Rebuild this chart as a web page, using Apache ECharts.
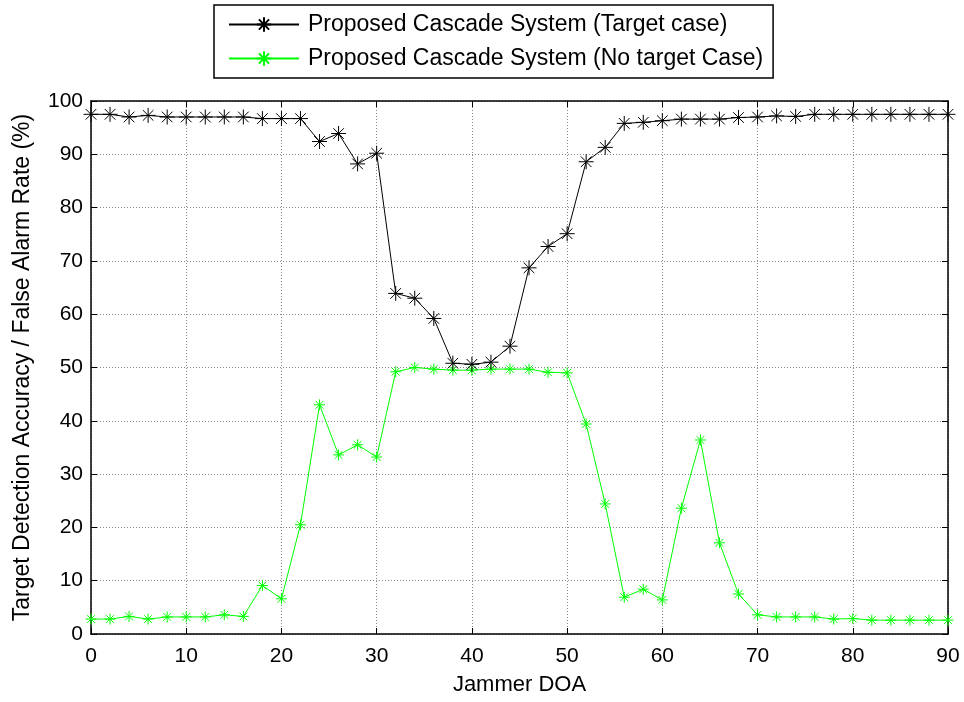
<!DOCTYPE html>
<html>
<head>
<meta charset="utf-8">
<script src="https://cdn.jsdelivr.net/npm/echarts@6/dist/echarts.min.js"></script>
<style>
  html, body { margin: 0; padding: 0; background: #fff; }
  #chart { width: 964px; height: 702px; }
</style>
</head>
<body>
<div id="chart"></div>
<script>
// jammer direction of arrival (deg)
var doa = [0, 2, 4, 6, 8, 10, 12, 14, 16, 18, 20, 22, 24, 26, 28, 30, 32, 34, 36, 38, 40, 42, 44,
           46, 48, 50, 52, 54, 56, 58, 60, 62, 64, 66, 68, 70, 72, 74, 76, 78, 80, 82, 84, 86, 88, 90];

// detection accuracy, target present
var targetCase = [97.5, 97.5, 97, 97.3, 97, 97, 97, 97, 97, 96.7, 96.7, 96.7,
                  92.4, 93.9, 88.2, 90.2, 63.9, 63, 59.2, 50.8, 50.6, 51, 54,
                  68.7, 72.7, 75.1, 88.6, 91.3, 95.8, 96, 96.3, 96.6, 96.6, 96.6, 96.9, 97, 97.2,
                  97.1, 97.5, 97.5, 97.5, 97.5, 97.5, 97.5, 97.5, 97.5];

// false alarm rate, no target
var noTargetCase = [2.8, 2.8, 3.3, 2.8, 3.2, 3.2, 3.2, 3.6, 3.3, 9.1, 6.6, 20.5,
                    43, 33.6, 35.5, 33.2, 49.2, 50, 49.7, 49.5, 49.5, 49.7, 49.7,
                    49.7, 49.1, 49, 39.4, 24.4, 6.9, 8.4, 6.4, 23.6, 36.4, 17.1, 7.5, 3.6, 3.2,
                    3.2, 3.2, 2.8, 2.9, 2.6, 2.6, 2.6, 2.6, 2.6];

var xTicks = [0, 10, 20, 30, 40, 50, 60, 70, 80, 90];
var yTicks = [0, 10, 20, 30, 40, 50, 60, 70, 80, 90, 100];

var seriesNames = ['Proposed Cascade System (Target case)', 'Proposed Cascade System (No target Case)'];

// matlab style '*' marker
var asterisk = 'path://M5,0L5,10M0,5L10,5M1.46,1.46L8.54,8.54M8.54,1.46L1.46,8.54';
var font = 'Liberation Sans, Arial, sans-serif';

function pairs(xs, ys) {
    return xs.map(function (x, i) { return [x, ys[i]]; });
}

var chart = echarts.init(document.getElementById('chart'));

var baseX = {
    type: 'value',
    min: xTicks[0],
    max: xTicks[xTicks.length - 1],
    interval: 10,
    axisLine: { show: true, onZero: false, lineStyle: { color: '#000', width: 1.5 } },
    axisTick: { show: true, inside: true, length: 6, lineStyle: { color: '#000' } }
};
var baseY = {
    type: 'value',
    min: yTicks[0],
    max: yTicks[yTicks.length - 1],
    interval: 10,
    axisLine: { show: true, onZero: false, lineStyle: { color: '#000', width: 1.5 } },
    axisTick: { show: true, inside: true, length: 6, lineStyle: { color: '#000' } }
};

var option = {
    backgroundColor: '#fff',
    animation: false,
    textStyle: { fontFamily: font },
    grid: { left: 91, right: 16, top: 101, bottom: 68 },
    legend: {
        orient: 'vertical',
        left: 214,
        top: 5,
        padding: [8, 10, 8, 14],
        itemGap: 11,
        itemWidth: 70,
        itemHeight: 18,
        borderColor: '#000',
        borderWidth: 1.5,
        backgroundColor: '#fff',
        textStyle: { fontFamily: font, fontSize: 23, color: '#000', padding: [0, 0, 0, 4] },
        data: seriesNames
    }
};

option.xAxis = [
    Object.assign({}, baseX, {
        position: 'bottom',
        name: 'Jammer DOA',
        nameLocation: 'middle',
        nameGap: 40,
        nameTextStyle: { fontFamily: font, fontSize: 22, color: '#000' },
        axisLabel: { fontFamily: font, fontSize: 21, color: '#000', margin: 12 },
        splitLine: { show: true, lineStyle: { color: '#888', type: [1, 2], width: 1 } }
    }),
    Object.assign({}, baseX, {
        position: 'top',
        axisLabel: { show: false },
        splitLine: { show: false }
    })
];

option.yAxis = [
    Object.assign({}, baseY, {
        position: 'left',
        name: 'Target Detection Accuracy / False Alarm Rate (%)',
        nameLocation: 'middle',
        nameGap: 57,
        nameTextStyle: { fontFamily: font, fontSize: 23, color: '#000' },
        axisLabel: { fontFamily: font, fontSize: 21, color: '#000', margin: 8 },
        splitLine: { show: true, lineStyle: { color: '#888', type: [1, 2], width: 1 } }
    }),
    Object.assign({}, baseY, {
        position: 'right',
        axisLabel: { show: false },
        splitLine: { show: false }
    })
];

option.series = [
    {
        name: seriesNames[0],
        type: 'line',
        xAxisIndex: 0,
        yAxisIndex: 0,
        data: pairs(doa, targetCase),
        symbol: asterisk,
        symbolSize: 15,
        showAllSymbol: true,
        lineStyle: { color: '#000', width: 1 },
        itemStyle: { color: 'transparent', borderColor: '#000', borderWidth: 1 },
        z: 3
    },
    {
        name: seriesNames[1],
        type: 'line',
        xAxisIndex: 0,
        yAxisIndex: 0,
        data: pairs(doa, noTargetCase),
        symbol: asterisk,
        symbolSize: 11,
        showAllSymbol: true,
        lineStyle: { color: '#00ff00', width: 1 },
        itemStyle: { color: 'transparent', borderColor: '#00ff00', borderWidth: 1 },
        z: 2
    }
];

chart.setOption(option);
</script>
</body>
</html>
